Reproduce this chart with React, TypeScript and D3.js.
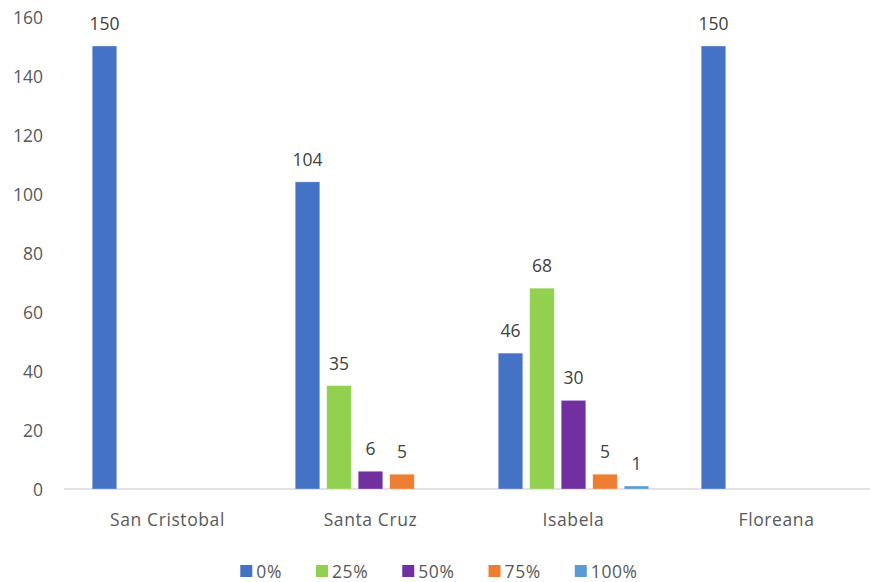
import React from "react";
import * as d3 from "d3";

const categories = ["San Cristobal", "Santa Cruz", "Isabela", "Floreana"];
const seriesNames = ["0%", "25%", "50%", "75%", "100%"];
const s0 = [150, 104, 46, 150];
const s25 = [null, 35, 68, null];
const s50 = [null, 6, 30, null];
const s75 = [null, 5, 5, null];
const s100 = [null, null, 1, null];
const seriesValues = [s0, s25, s50, s75, s100];
const colors = ["#4472C4", "#92D050", "#7030A0", "#ED7D31", "#5B9BD5"];
const yTicks = [0, 20, 40, 60, 80, 100, 120, 140, 160];

const W = 870;
const H = 582;
const FONT = "'Open Sans', 'Noto Sans', sans-serif";
const FS = 17.5;
const LS = 0.6;

function measure(text: string, size: number) {
  const c = document.createElement("canvas").getContext("2d");
  if (!c) return text.length * size * 0.55;
  c.font = `${size}px ${FONT}`;
  return c.measureText(text).width + LS * text.length;
}

export default function App() {
  const x = d3.scaleBand<string>().domain(categories).range([66, 878]).paddingInner(0).paddingOuter(0);
  const xi = d3
    .scaleBand<string>()
    .domain(seriesNames)
    .range([0, x.bandwidth()])
    .paddingInner(0.222)
    .paddingOuter(0.833);
  const y = d3.scaleLinear().domain([0, 160]).range([489, 16.5]);

  // legend layout
  const sq = 12;
  const gapSq = 4;
  const gapItem = 34;
  const lfs = 17.5;
  const widths = seriesNames.map((n) => sq + gapSq + measure(n, lfs));
  const total = widths.reduce((a, b) => a + b, 0) + gapItem * (seriesNames.length - 1);
  let lx = 439 - total / 2;
  const legendItems = seriesNames.map((n, i) => {
    const item = { name: n, x: lx, color: colors[i] };
    lx += widths[i] + gapItem;
    return item;
  });
  const ly = 571;

  return (
    <svg
      width={W}
      height={H}
      style={{ position: "absolute", left: 0, top: 0, background: "#fff" }}
      fontFamily={FONT}
    >
      <rect x={0} y={0} width={W} height={H} fill="#fff" />
      {yTicks.map((t) => (
        <text
          key={t}
          x={43}
          y={y(t)}
          textAnchor="end"
          dominantBaseline="central"
          fontSize={FS}
          fill="#595959"
        >
          {t}
        </text>
      ))}
      <line x1={64} x2={W} y1={y(0)} y2={y(0)} stroke="#d9d9d9" strokeWidth={1.3} />
      {categories.map((c, ci) => (
        <g key={c} transform={`translate(${x(c)},0)`}>
          {seriesNames.map((s, si) => {
            const v = seriesValues[si][ci];
            if (v === null || v === undefined) return null;
            const bx = xi(s) as number;
            const bw = xi.bandwidth();
            return (
              <g key={s}>
                <rect
                  x={bx}
                  y={y(v)}
                  width={bw}
                  height={y(0) - y(v)}
                  fill={colors[si]}
                  stroke="#ffffff"
                  strokeOpacity={0.35}
                  strokeWidth={0.8}
                />
                <text
                  x={bx + bw / 2}
                  y={y(v) - 23}
                  textAnchor="middle"
                  dominantBaseline="central"
                  fontSize={FS}
                  fill="#404040"
                >
                  {v}
                </text>
              </g>
            );
          })}
          <text
            x={x.bandwidth() / 2}
            y={519}
            textAnchor="middle"
            dominantBaseline="central"
            fontSize={FS}
            letterSpacing={LS}
            fill="#595959"
          >
            {c}
          </text>
        </g>
      ))}
      {legendItems.map((it) => (
        <g key={it.name}>
          <rect x={it.x} y={ly - sq / 2} width={sq} height={sq} fill={it.color} />
          <text
            x={it.x + sq + gapSq}
            y={ly}
            dominantBaseline="central"
            fontSize={lfs}
            letterSpacing={LS}
            fill="#595959"
          >
            {it.name}
          </text>
        </g>
      ))}
    </svg>
  );
}
